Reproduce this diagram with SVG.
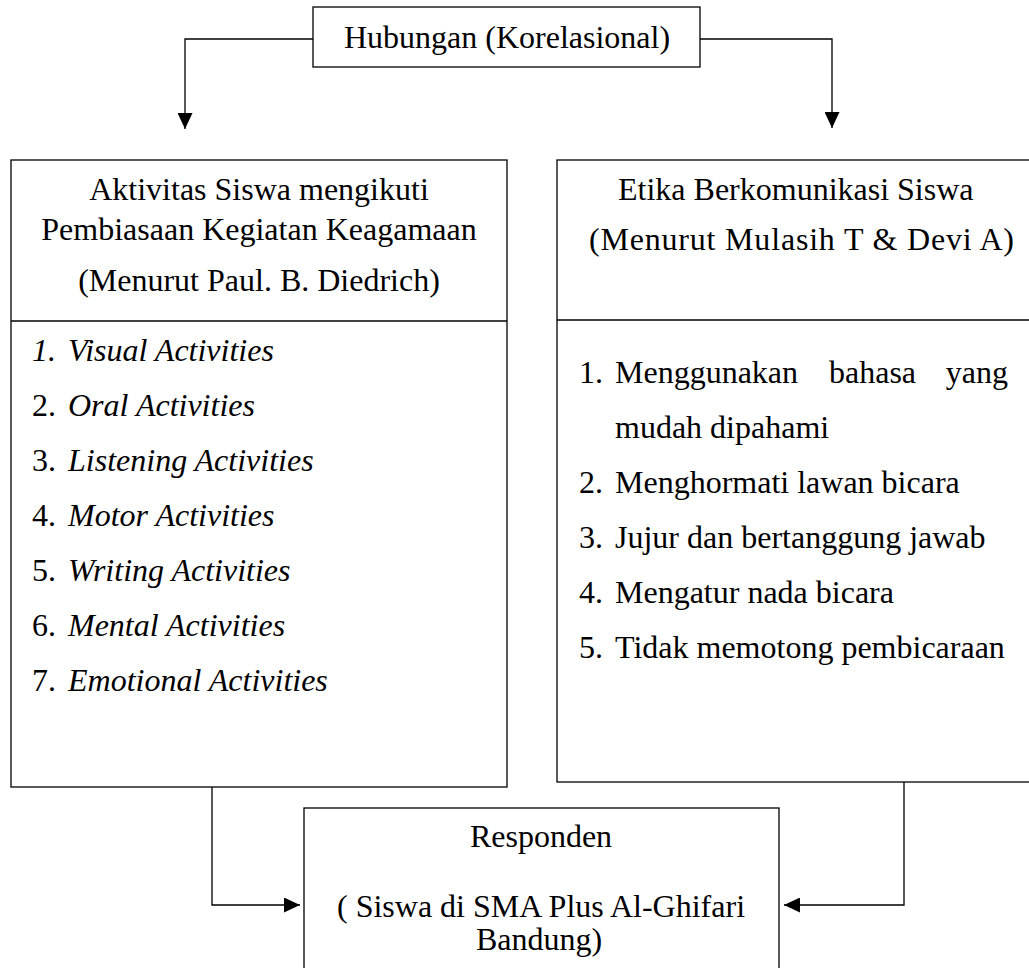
<svg xmlns="http://www.w3.org/2000/svg" width="1029" height="968" viewBox="0 0 1029 968">
<defs>
<marker id="arr" viewBox="0 0 10 10" refX="10" refY="5" markerWidth="16" markerHeight="15" markerUnits="userSpaceOnUse" orient="auto" preserveAspectRatio="none">
<path d="M0,0 L10,5 L0,10 Z" fill="#000"/>
</marker>
<style>
.box{fill:#fff;stroke:#000;stroke-width:1.3}
.ln{fill:none;stroke:#000;stroke-width:1.3}
text{font-family:"Liberation Serif","Times New Roman",serif;font-size:32px;fill:#000}
.c{text-anchor:middle}
.i{font-style:italic}
</style>
</defs>
<rect width="1029" height="968" fill="#fff"/>
<g id="connectors">
<path class="ln" d="M313,39 H185 V129" marker-end="url(#arr)"/>
<path class="ln" d="M700,39 H832 V128" marker-end="url(#arr)"/>
<path class="ln" d="M212,787 V905 H300" marker-end="url(#arr)"/>
<path class="ln" d="M904,782 V905 H784" marker-end="url(#arr)"/>
</g>
<g id="top">
<rect class="box" x="313" y="7" width="387" height="60"/>
<text class="c" x="507" y="48">Hubungan (Korelasional)</text>
</g>
<g id="left">
<rect class="box" x="11" y="160" width="496" height="627"/>
<line class="ln" x1="11" y1="321" x2="507" y2="321"/>
<text class="c" x="259" y="200">Aktivitas Siswa mengikuti</text>
<text class="c" x="259" y="240">Pembiasaan Kegiatan Keagamaan</text>
<text class="c" x="259" y="291">(Menurut Paul. B. Diedrich)</text>
<text class="i" x="32" y="361">1.</text><text class="i" x="68" y="361">Visual Activities</text>
<text x="32" y="416">2.</text><text class="i" x="68" y="416">Oral Activities</text>
<text x="32" y="471">3.</text><text class="i" x="68" y="471">Listening Activities</text>
<text x="32" y="526">4.</text><text class="i" x="68" y="526">Motor Activities</text>
<text x="32" y="581">5.</text><text class="i" x="68" y="581">Writing Activities</text>
<text x="32" y="636">6.</text><text class="i" x="68" y="636">Mental Activities</text>
<text x="32" y="691">7.</text><text class="i" x="68" y="691">Emotional Activities</text>
</g>
<g id="right">
<rect class="box" x="557" y="160" width="480" height="622"/>
<line class="ln" x1="557" y1="320" x2="1029" y2="320"/>
<text x="618" y="200">Etika Berkomunikasi Siswa</text>
<text x="589" y="250" textLength="425" lengthAdjust="spacing">(Menurut Mulasih T &amp; Devi A)</text>
<text x="579" y="383">1.</text><text x="615" y="383">Menggunakan</text><text x="829" y="383">bahasa</text><text x="1008" y="383" text-anchor="end">yang</text>
<text x="615" y="438">mudah dipahami</text>
<text x="579" y="493">2.</text><text x="615" y="493">Menghormati lawan bicara</text>
<text x="579" y="548">3.</text><text x="615" y="548">Jujur dan bertanggung jawab</text>
<text x="579" y="603">4.</text><text x="615" y="603">Mengatur nada bicara</text>
<text x="579" y="658">5.</text><text x="615" y="658">Tidak memotong pembicaraan</text>
</g>
<g id="bottom">
<rect class="box" x="304" y="808" width="475" height="180"/>
<text class="c" x="541" y="847">Responden</text>
<text class="c" x="541" y="917">( Siswa di SMA Plus Al-Ghifari</text>
<text class="c" x="539" y="950">Bandung)</text>
</g>
</svg>
